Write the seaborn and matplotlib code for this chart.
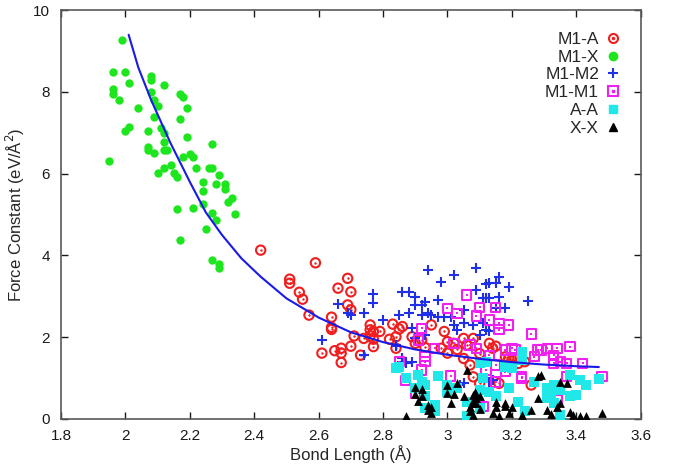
import numpy as np
import pandas as pd
import matplotlib
matplotlib.use('Agg')
import matplotlib.pyplot as plt
import matplotlib.ticker as mticker
from matplotlib.lines import Line2D
from matplotlib.legend_handler import HandlerTuple
import seaborn as sns

sns.set_style('ticks')
plt.rcParams['font.family'] = ['Liberation Sans', 'DejaVu Sans']

# M1-A (red open circles with dot)
m1a_x = [2.42, 2.59, 2.51, 2.51, 2.69, 2.66, 2.70, 2.54, 2.55, 2.69, 2.70, 2.57, 2.64, 2.64, 2.64,
         2.76, 2.76, 2.77, 2.79, 2.83, 2.86, 2.85, 2.84, 2.71, 2.74, 2.76, 2.77, 2.67, 2.70, 2.77,
         2.65, 2.61, 2.67, 2.67, 2.73, 2.84, 2.89, 2.90, 2.95, 2.92, 2.99, 3.02, 3.00, 2.98, 3.00,
         3.05, 3.06, 3.08, 3.05, 3.13, 3.14, 3.15, 3.18, 3.19, 3.21, 3.22, 3.08, 3.16, 3.26, 3.07,
         3.10, 3.20, 2.82, 2.93, 3.03, 3.10, 3.24]
m1a_y = [4.13, 3.82, 3.42, 3.32, 3.44, 3.20, 3.11, 3.10, 2.93, 2.79, 2.67, 2.54, 2.49, 2.24, 2.19,
         2.30, 2.18, 2.14, 2.14, 2.32, 2.26, 2.20, 2.01, 2.03, 1.97, 2.03, 1.95, 1.73, 1.78, 1.77,
         1.67, 1.61, 1.61, 1.38, 1.56, 1.73, 2.01, 1.85, 2.30, 1.93, 2.14, 1.85, 1.89, 1.73, 1.61,
         1.97, 1.81, 1.97, 1.48, 1.85, 1.73, 1.78, 1.52, 1.48, 1.48, 1.36, 1.03, 0.87, 0.83, 1.32,
         0.87, 1.44, 1.95, 1.75, 1.70, 1.60, 1.40]

# M1-X (green filled circles)
m1x_x = [1.99, 1.96, 2.00, 2.08, 2.08, 2.01, 2.12, 1.96, 1.96, 1.98, 2.08, 2.17, 2.18, 2.09, 2.10,
         2.04, 2.19, 2.09, 2.17, 2.01, 2.00, 2.07, 2.11, 2.12, 2.19, 2.12, 2.27, 2.07, 2.07, 2.09,
         2.12, 2.13, 2.18, 2.20, 2.21, 1.95, 2.14, 2.12, 2.10, 2.15, 2.16, 2.22, 2.26, 2.27, 2.29,
         2.24, 2.28, 2.31, 2.31, 2.24, 2.32, 2.33, 2.24, 2.16, 2.21, 2.27, 2.28, 2.34, 2.25, 2.17,
         2.27, 2.29, 2.29]
m1x_y = [9.28, 8.49, 8.49, 8.39, 8.29, 8.22, 8.17, 8.08, 7.96, 7.80, 8.00, 7.96, 7.88, 7.80, 7.65,
         7.60, 7.60, 7.39, 7.35, 7.15, 7.04, 7.04, 7.11, 6.99, 6.90, 6.78, 6.72, 6.66, 6.58, 6.50,
         6.59, 6.59, 6.41, 6.48, 6.40, 6.32, 6.21, 6.13, 6.01, 6.01, 5.92, 6.13, 6.15, 6.15, 5.97,
         5.80, 5.76, 5.75, 5.62, 5.57, 5.31, 5.40, 5.26, 5.13, 5.15, 5.04, 4.87, 5.01, 4.64, 4.39,
         3.90, 3.79, 3.69]

# M1-M2 (blue plus)
m1m2_x = [2.94, 2.77, 2.77, 2.66, 2.69, 2.70, 2.74, 2.86, 2.88, 2.90, 2.93, 2.97, 2.88, 2.85, 2.80,
          2.89, 2.61, 2.84, 2.74, 2.86, 2.87, 2.94, 3.09, 3.02, 2.98, 3.12, 3.09, 3.12, 2.90, 2.92,
          3.05, 2.92, 2.95, 2.97, 2.99, 3.01, 3.05, 3.08, 3.11, 3.03, 2.93, 3.16, 3.13, 3.15, 3.19,
          3.11, 3.13, 3.16, 3.25, 3.18, 3.15, 3.12, 3.13, 3.05, 3.13, 2.84, 2.86, 2.89, 3.04, 2.90,
          3.14, 3.10, 3.02]
m1m2_y = [3.64, 3.06, 2.84, 2.81, 2.58, 2.55, 2.60, 3.11, 3.11, 2.99, 2.87, 2.91, 2.58, 2.54, 2.42,
          2.22, 1.93, 1.78, 1.56, 1.48, 1.38, 2.58, 3.70, 3.52, 3.36, 3.29, 3.15, 2.95, 2.80, 2.80,
          2.67, 2.54, 2.54, 2.50, 2.50, 2.50, 2.34, 2.30, 2.34, 2.18, 2.05, 3.48, 3.32, 3.32, 3.22,
          2.97, 2.97, 2.99, 2.89, 2.72, 2.71, 2.18, 2.14, 0.87, 0.91, 1.81, 1.40, 1.40, 0.83, 1.97,
          0.95, 2.05, 2.30]

# M1-M1 (magenta open squares with dot)
m1m1_x = [2.92, 2.91, 2.96, 2.85, 2.93, 2.92, 2.87, 2.90, 3.06, 3.00, 3.03, 3.10, 3.15, 3.09, 3.13,
          3.16, 3.19, 3.16, 3.02, 3.26, 3.07, 3.09, 3.18, 3.21, 3.28, 3.31, 3.34, 3.38, 3.33, 3.27,
          3.37, 3.33, 3.42, 3.15, 3.01, 3.23, 3.37, 3.48, 2.93, 3.13, 3.34, 3.20, 3.29, 3.35, 3.23,
          3.18, 3.15, 3.11, 3.12]
m1m1_y = [2.22, 1.93, 1.73, 1.40, 1.40, 1.20, 0.94, 0.63, 3.03, 2.71, 2.58, 2.73, 2.73, 2.52, 2.42,
          2.34, 2.30, 2.18, 1.85, 2.08, 1.81, 1.73, 1.69, 1.69, 1.69, 1.73, 1.73, 1.77, 1.56, 1.52,
          1.36, 1.36, 1.36, 1.32, 1.05, 1.03, 1.03, 1.03, 1.52, 1.56, 0.46, 1.73, 1.69, 1.40, 0.99,
          1.16, 0.90, 0.30, 1.20]

# A-A (cyan filled squares)
aa_x = [2.85, 2.87, 2.91, 2.92, 2.90, 2.93, 2.93, 2.96, 3.00, 3.00, 3.03, 3.10, 3.11, 3.10, 3.06,
        3.07, 3.06, 2.96, 3.10, 3.23, 3.18, 3.20, 3.12, 3.19, 3.31, 3.33, 3.35, 3.40, 3.38, 3.43,
        3.32, 3.31, 3.33, 3.35, 3.22, 3.24, 3.13, 3.15, 3.38, 3.41, 3.47, 2.84, 3.23, 3.27, 2.97,
        2.93]
aa_y = [1.28, 0.99, 1.08, 0.90, 0.75, 0.55, 0.26, 0.35, 0.83, 0.67, 0.75, 1.36, 0.99, 0.71, 0.42,
        0.06, 0.08, 0.20, 0.26, 1.65, 1.28, 1.25, 1.40, 0.75, 0.75, 0.83, 0.70, 0.59, 0.57, 0.83,
        0.60, 0.50, 0.40, 0.10, 0.42, 0.20, 0.65, 0.55, 1.08, 0.95, 0.98, 1.24, 1.45, 0.90, 1.05,
        0.83]

# X-X (black triangles)
xx_x = [2.87, 2.90, 2.92, 2.92, 2.91, 2.94, 2.94, 2.95, 3.00, 3.03, 3.00, 3.01, 3.02, 3.05, 3.06,
        3.08, 3.08, 3.09, 3.07, 3.10, 3.07, 3.08, 3.29, 3.28, 3.35, 3.37, 3.28, 3.10, 3.15, 3.15,
        3.18, 3.18, 3.20, 3.14, 3.23, 3.26, 3.31, 3.32, 3.35, 3.34, 3.38, 3.39, 3.41, 3.43, 3.48,
        3.16, 3.19, 2.90, 2.95, 3.085, 3.09, 3.075]
xx_y = [0.06, 0.79, 0.73, 0.55, 0.45, 0.34, 0.23, 0.14, 0.83, 0.87, 0.63, 0.38, 0.60, 0.55, 1.20,
        0.59, 0.45, 0.38, 0.28, 0.25, 0.20, 0.10, 1.08, 1.05, 0.91, 0.87, 0.50, 0.55, 0.42, 0.30,
        0.38, 0.32, 0.28, 0.14, 0.10, 0.22, 0.22, 0.13, 0.38, 0.30, 0.17, 0.10, 0.06, 0.06, 0.14,
        0.06, 0.14, 0.60, 0.30, 0.65, 0.50, 0.40]

# fitted curve
fit_x = [2.01, 2.04, 2.08, 2.14, 2.20, 2.25, 2.30, 2.36, 2.42, 2.50, 2.60, 2.70, 2.80, 2.90,
         3.00, 3.10, 3.20, 3.30, 3.40, 3.47]
fit_y = [9.40, 8.60, 7.80, 6.75, 5.80, 5.05, 4.50, 3.93, 3.48, 2.95, 2.48, 2.12, 1.88, 1.70,
         1.57, 1.47, 1.39, 1.33, 1.29, 1.27]

labels = ['M1-A', 'M1-X', 'M1-M2', 'M1-M1', 'A-A', 'X-X']
red = '#f01e1e'
green = '#1ee61e'
blue = '#2030e8'
magenta = '#f020f0'
cyan = '#20e8e8'
black = '#000000'

fig, ax = plt.subplots(figsize=(6.78, 4.66), dpi=100)
fig.subplots_adjust(left=0.09, right=0.945, top=0.978, bottom=0.101)

sns.lineplot(x=fit_x, y=fit_y, ax=ax, color='#1a1ae6', lw=1.5, zorder=10, legend=False)

sns.scatterplot(x=m1a_x, y=m1a_y, ax=ax, marker='o', s=45, facecolor='none',
                edgecolor=red, linewidth=1.5, zorder=3)
sns.scatterplot(x=m1a_x, y=m1a_y, ax=ax, marker='o', s=3, color=red, linewidth=0, zorder=3)
sns.scatterplot(x=m1x_x, y=m1x_y, ax=ax, marker='o', s=36, color=green, linewidth=0, zorder=3)
sns.scatterplot(x=m1m2_x, y=m1m2_y, ax=ax, marker='+', s=55, color=blue, linewidth=1.5, zorder=4)
sns.scatterplot(x=m1m1_x, y=m1m1_y, ax=ax, marker='s', s=45, facecolor='none',
                edgecolor=magenta, linewidth=1.5, zorder=5)
sns.scatterplot(x=m1m1_x, y=m1m1_y, ax=ax, marker='s', s=3, color=magenta, linewidth=0, zorder=5)
sns.scatterplot(x=aa_x, y=aa_y, ax=ax, marker='s', s=45, color=cyan, linewidth=0, zorder=6)
sns.scatterplot(x=xx_x, y=xx_y, ax=ax, marker='^', s=40, color=black, linewidth=0, zorder=7)

ax.set_xlim(1.8, 3.6)
ax.set_ylim(0, 10)
ax.set_xticks(np.arange(1.8, 3.61, 0.2))
ax.set_yticks(np.arange(0, 10.1, 2))
ax.xaxis.set_major_formatter(mticker.FuncFormatter(lambda v, p: f'{v:g}'))
ax.tick_params(direction='in', top=True, right=True, length=5, width=1,
               labelsize=11, colors='0.1')
ax.tick_params(axis='x', pad=7)
ax.tick_params(axis='y', pad=8)
for sp in ax.spines.values():
    sp.set_color('0.35')
    sp.set_linewidth(1.2)
ax.set_xlabel('Bond Length (Å)', fontsize=12, labelpad=2)
ax.set_ylabel('Force Constant (eV/Å$^2$)', fontsize=12, labelpad=4)

handles = [
    (Line2D([], [], ls='', marker='o', mfc='none', mec=red, mew=1.5, ms=6.5),
     Line2D([], [], ls='', marker='o', color=red, ms=1.5)),
    Line2D([], [], ls='', marker='o', color=green, ms=6),
    Line2D([], [], ls='', marker='+', color=blue, mew=1.5, ms=7),
    (Line2D([], [], ls='', marker='s', mfc='none', mec=magenta, mew=1.5, ms=6.5),
     Line2D([], [], ls='', marker='s', color=magenta, ms=1.5)),
    Line2D([], [], ls='', marker='s', color=cyan, ms=6),
    Line2D([], [], ls='', marker='^', color=black, ms=6),
]
ax.legend(handles, labels, handler_map={tuple: HandlerTuple(ndivide=1, pad=0)},
          loc='upper right', bbox_to_anchor=(0.985, 0.973), markerfirst=False, frameon=False,
          fontsize=12.5, handlelength=1.0, handletextpad=0.3, labelspacing=0.15,
          borderaxespad=0.2)

fig.savefig('out.png', dpi=100)
